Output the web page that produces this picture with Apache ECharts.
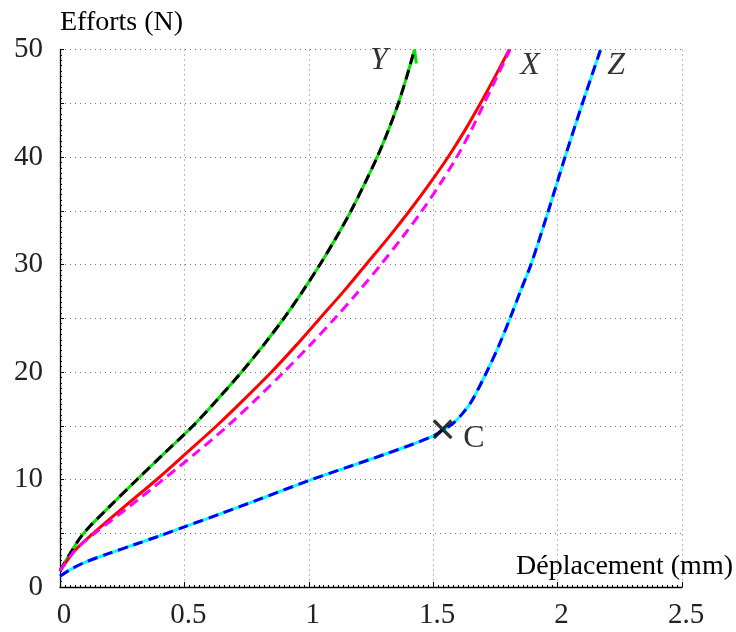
<!DOCTYPE html>
<html>
<head>
<meta charset="utf-8">
<script src="https://cdn.jsdelivr.net/npm/echarts@6/dist/echarts.min.js"></script>
<style>
  html, body { margin: 0; padding: 0; background: #fff; }
  #chart { width: 736px; height: 632px; }
</style>
</head>
<body>
<div id="chart"></div>
<script>
// tick labels
var xTicks = [0, 0.5, 1, 1.5, 2, 2.5];
var yTicks = [0, 10, 20, 30, 40, 50];

// direction Y : [displacement mm, force N]
var curveY = [[0, 1.5], [0.04, 3.1], [0.095, 5], [0.2, 7.5], [0.31, 10], [0.422, 12.5], [0.535, 15],
  [0.635, 17.5], [0.73, 20], [0.818, 22.5], [0.9, 25], [0.975, 27.5], [1.045, 30], [1.11, 32.5],
  [1.17, 35], [1.224, 37.5], [1.275, 40], [1.32, 42.5], [1.36, 45], [1.394, 47.5], [1.425, 50]];
var curveYhook = [[1.425, 50], [1.432, 48.7]];

// direction X : measured (solid) and model (dashed)
var curveX = [[0, 1.5], [0.06, 3.4], [0.134, 5], [0.26, 7.5], [0.389, 10], [0.51, 12.5], [0.63, 15],
  [0.742, 17.5], [0.85, 20], [0.95, 22.5], [1.045, 25], [1.14, 27.5], [1.23, 30], [1.32, 32.5],
  [1.405, 35], [1.485, 37.5], [1.56, 40], [1.628, 42.5], [1.69, 45], [1.749, 47.5], [1.806, 50]];
var curveXmodel = [[0, 1.5], [0.06, 3.4], [0.14, 5], [0.28, 7.5], [0.415, 10], [0.548, 12.5], [0.675, 15],
  [0.79, 17.5], [0.9, 20], [1.005, 22.5], [1.105, 25], [1.2, 27.5], [1.29, 30], [1.375, 32.5],
  [1.455, 35], [1.528, 37.5], [1.595, 40], [1.653, 42.5], [1.705, 45], [1.757, 47.5], [1.809, 50]];

// direction Z
var curveZ = [[0, 1], [0.04, 1.6], [0.1, 2.3], [0.2, 3.15], [0.3, 3.95], [0.4, 4.75], [0.5, 5.6],
  [0.65, 6.85], [0.8, 8.15], [1.0, 9.9], [1.15, 11.1], [1.3, 12.3], [1.42, 13.3], [1.5, 14.05],
  [1.538, 14.6], [1.574, 15.1], [1.62, 16.2], [1.655, 17.3], [1.715, 20], [1.762, 22.35],
  [1.809, 25], [1.852, 27.6], [1.893, 30], [1.963, 35], [2.03, 40], [2.1, 45], [2.173, 50]];

// point C and curve names
var pointC = [[1.538, 14.67]];
var annotations = [
  { name: 'Y', value: [1.282, 49.0], italic: true },
  { name: 'X', value: [1.889, 48.5], italic: true },
  { name: 'Z', value: [2.235, 48.5], italic: true },
  { name: 'C', value: [1.664, 13.8], italic: false }
];

var serif = 'Liberation Serif';
var dash = [10, 6];

function line(name, data, color, type, z) {
  return {
    name: name,
    type: 'line',
    data: data,
    smooth: 0.3,
    symbol: 'none',
    z: z,
    lineStyle: { color: color, width: 3, type: type }
  };
}

var option = {
  animation: false,
  backgroundColor: '#fff',
  grid: { left: 60, right: 54, top: 49.5, bottom: 45 },
  xAxis: {
    type: 'value',
    min: 0,
    max: 2.5,
    interval: 0.5,
    name: 'Déplacement (mm)',
    nameLocation: 'end',
    nameGap: 0,
    nameTextStyle: {
      fontFamily: serif, fontSize: 28, color: '#000',
      align: 'right', verticalAlign: 'bottom', padding: [0, -51, 6, 0]
    },
    axisLine: { show: true, onZero: false, lineStyle: { color: '#000', width: 1.3 } },
    axisTick: { show: true, inside: true, length: 5, lineStyle: { color: '#000' } },
    minorTick: { show: true, splitNumber: 25, length: 2, lineStyle: { color: '#000' } },
    axisLabel: {
      fontFamily: serif, fontSize: 29, color: '#222', margin: 14,
      padding: [0, 0, 0, 8],
      formatter: function (v) { return xTicks.indexOf(v) >= 0 ? String(v) : ''; }
    },
    splitLine: { show: true, lineStyle: { color: '#777', width: 1, type: [1, 4] } }
  },
  yAxis: {
    type: 'value',
    min: 0,
    max: 50,
    interval: 5,
    name: 'Efforts (N)',
    nameLocation: 'end',
    nameGap: 27,
    nameTextStyle: {
      fontFamily: serif, fontSize: 28, color: '#000',
      align: 'left', verticalAlign: 'middle'
    },
    axisLine: { show: true, onZero: false, lineStyle: { color: '#000', width: 1.3 } },
    axisTick: { show: true, inside: true, length: 4, lineStyle: { color: '#000' } },
    minorTick: { show: true, splitNumber: 10, length: 2, lineStyle: { color: '#000' } },
    axisLabel: {
      fontFamily: serif, fontSize: 29, color: '#222', margin: 17,
      formatter: function (v) { return yTicks.indexOf(v) >= 0 ? String(v) : ''; }
    },
    splitLine: { show: true, lineStyle: { color: '#777', width: 1, type: [1, 4] } }
  },
  series: [
    line('Y', curveY, '#00e600', 'solid', 2),
    line('Y hook', curveYhook, '#00e600', 'solid', 2),
    line('Y model', curveY, '#000000', dash, 3),
    line('X', curveX, '#ff0000', 'solid', 2),
    line('X model', curveXmodel, '#ff00ff', dash, 3),
    line('Z', curveZ, '#00ffff', 'solid', 2),
    line('Z model', curveZ, '#0000ff', dash, 3),
    {
      name: 'C',
      type: 'scatter',
      data: pointC,
      z: 5,
      symbol: 'path://M0,1.2 L1.2,0 L5,3.8 L8.8,0 L10,1.2 L6.2,5 L10,8.8 L8.8,10 L5,6.2 L1.2,10 L0,8.8 L3.8,5 Z',
      symbolSize: 20,
      itemStyle: { color: '#000' }
    },
    {
      name: 'labels',
      type: 'scatter',
      z: 6,
      symbolSize: 1,
      itemStyle: { color: 'rgba(0,0,0,0)' },
      data: annotations.map(function (a) {
        return {
          name: a.name,
          value: a.value,
          label: {
            show: true,
            position: 'inside',
            formatter: a.name,
            fontFamily: serif,
            fontSize: 32,
            fontStyle: a.italic ? 'italic' : 'normal',
            color: '#000'
          }
        };
      })
    }
  ]
};

var chart = echarts.init(document.getElementById('chart'));
chart.setOption(option);
</script>
</body>
</html>
